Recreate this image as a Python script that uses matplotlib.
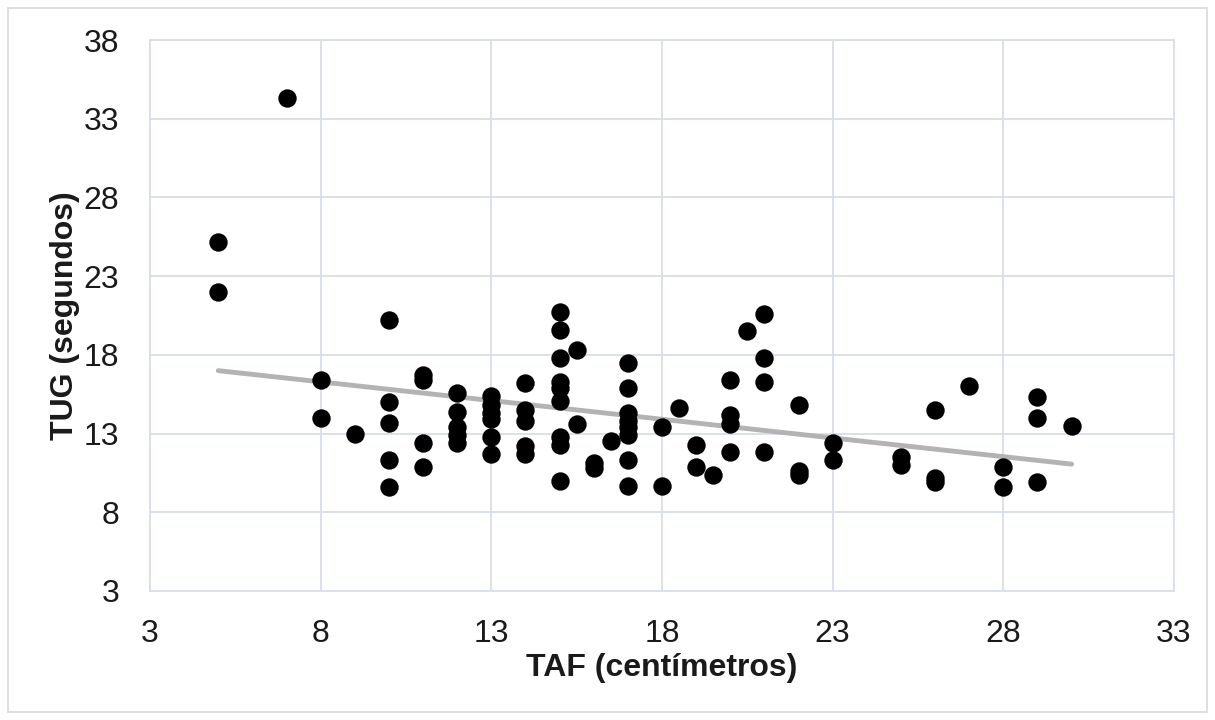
import numpy as np
import matplotlib
matplotlib.use("Agg")
import matplotlib.pyplot as plt
from matplotlib.patches import Rectangle

# TAF (cm) and TUG (s) values
taf = [5, 5, 7, 8, 8, 9,
       10, 10, 10, 10, 10,
       11, 11, 11, 11,
       12, 12, 12, 12, 12,
       13, 13, 13, 13, 13, 13,
       14, 14, 14, 14, 14,
       15, 15, 15, 15, 15, 15, 15, 15, 15,
       15.5, 15.5, 16, 16, 16.5,
       17, 17, 17, 17, 17, 17, 17, 17,
       18, 18, 18.5, 19, 19, 19.5,
       20, 20, 20, 20, 20.5,
       21, 21, 21, 21,
       22, 22, 22, 23, 23, 25, 25,
       26, 26, 26, 27, 28, 28, 29, 29, 29, 30]
tug = [25.2, 22.0, 34.3, 16.4, 14.0, 13.0,
       20.2, 15.0, 13.7, 11.3, 9.6,
       16.7, 16.4, 12.4, 10.9,
       15.6, 14.4, 13.4, 12.9, 12.4,
       15.4, 14.8, 14.3, 13.9, 12.8, 11.7,
       16.2, 14.5, 13.8, 12.2, 11.7,
       20.7, 19.6, 17.8, 16.3, 15.9, 15.1, 12.8, 12.3, 10.0,
       18.3, 13.6, 11.1, 10.8, 12.5,
       17.5, 15.9, 14.3, 13.8, 13.4, 12.9, 11.3, 9.7,
       13.4, 9.7, 14.6, 12.3, 10.9, 10.4,
       16.4, 14.2, 13.6, 11.8, 19.5,
       20.6, 17.8, 16.3, 11.8,
       14.8, 10.6, 10.4, 12.4, 11.3, 11.5, 11.0,
       14.5, 10.2, 9.9, 16.0, 10.9, 9.6, 15.3, 14.0, 9.9, 13.5]

x_ticks = [3, 8, 13, 18, 23, 28, 33]
y_ticks = [3, 8, 13, 18, 23, 28, 33, 38]
x_label = "TAF (centímetros)"
y_label = "TUG (segundos)"

plt.rcParams['font.family'] = ['Liberation Sans', 'DejaVu Sans']

fig = plt.figure(figsize=(12.15, 7.2), dpi=100)
ax = fig.add_axes([150/1215, 1 - 591/720, (1174-150)/1215, (591-40)/720])

grid_color = "#d9dee7"
ax.set_xlim(3, 33)
ax.set_ylim(3, 38)
ax.set_xticks(x_ticks)
ax.set_yticks(y_ticks)
ax.grid(True, color=grid_color, linewidth=1.3, zorder=0)
for s in ax.spines.values():
    s.set_color(grid_color)
    s.set_linewidth(1.3)
ax.tick_params(length=0, labelsize=23, labelcolor="#1a1a1a")
ax.tick_params(axis="x", pad=20)
ax.tick_params(axis="y", pad=22)

ax.scatter(taf, tug, s=175, color="black", zorder=3, linewidths=0)

# linear trend line
xa = np.array(taf, dtype=float)
ya = np.array(tug, dtype=float)
m, b = np.polyfit(xa, ya, 1)
xl = np.array([min(taf), max(taf)])
ax.plot(xl, m * xl + b, color="#b3b3b3", linewidth=3.5, zorder=2, solid_capstyle="round")

ax.set_xlabel(x_label, fontsize=23, fontweight="bold", color="#1a1a1a", labelpad=3)
ax.set_ylabel(y_label, fontsize=23, fontweight="bold", color="#1a1a1a", labelpad=3)

fig.patches.append(Rectangle((8/1215, 8/720), 1 - 16/1215, 1 - 16/720,
                             transform=fig.transFigure, fill=False,
                             edgecolor="#d9d9d9", linewidth=1.2))

fig.savefig("out.png", dpi=100)
